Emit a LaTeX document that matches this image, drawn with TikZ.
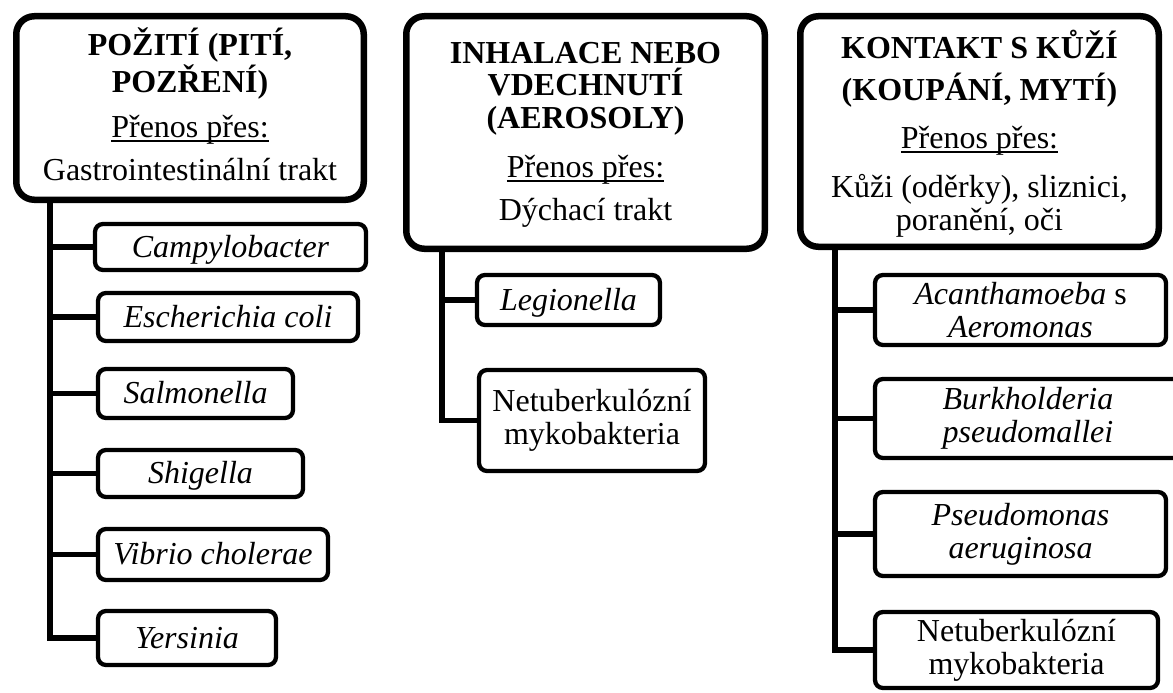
\documentclass[tikz,border=0pt]{standalone}
\usepackage{fontspec}
\setmainfont{Liberation Serif}
\usetikzlibrary{shadows}
\newsavebox\myulbox
\newcommand\myul[1]{\sbox\myulbox{#1}\rlap{\rule[-4.5pt]{\wd\myulbox}{1.5pt}}\usebox\myulbox}
\begin{document}
\begin{tikzpicture}[x=1pt,y=-1pt,
  hdr/.style={draw, line width=6.5pt, rounded corners=18pt, fill=white,
    drop shadow={shadow xshift=2pt, shadow yshift=-3pt, opacity=0.22}},
  htxt/.style={align=center, font=\fontsize{32}{33}\selectfont, inner sep=0pt, anchor=base},
  leaf/.style={draw, line width=4.3pt, rounded corners=8pt, fill=white, inner sep=0pt,
    align=center, font=\fontsize{32}{33}\selectfont\itshape},
  one/.style={text height=25pt, text depth=5pt},
  trunk/.style={line width=5.5pt}]
\useasboundingbox (0,0) rectangle (1173,693);

% headers
\node[hdr, minimum width=347.5pt, minimum height=183.5pt] (h1) at (190,108) {};
\node[htxt] (h1t) at (190,180) {\textbf{POŽITÍ (PITÍ,}\\[1pt]\textbf{POZŘENÍ)}\\[12pt]\myul{Přenos přes:}\\[10pt]Gastrointestinální trakt};

\node[hdr, minimum width=358.5pt, minimum height=232.5pt] (h2) at (585.5,132.5) {};
\node[htxt] (h2t) at (585.5,220) {\textbf{INHALACE NEBO}\\[-1pt]\textbf{VDECHNUTÍ}\\\textbf{(AEROSOLY)}\\[16pt]\myul{Přenos přes:}\\[10pt]Dýchací trakt};

\node[hdr, minimum width=358.5pt, minimum height=230.5pt] (h3) at (979.5,131.5) {};
\node[htxt] (h3t) at (979.5,230) {\textbf{KONTAKT S KŮŽÍ}\\[9pt]\textbf{(KOUPÁNÍ, MYTÍ)}\\[15pt]\myul{Přenos přes:}\\[16pt]Kůži (oděrky), sliznici,\\poranění, oči};

% leaves column 1
\node[leaf, one, minimum width=271pt, minimum height=46pt] (c11) at (230.5,247) {Campylobacter};
\node[leaf, one, minimum width=260pt, minimum height=48pt] (c12) at (228,317) {Escherichia coli};
\node[leaf, one, minimum width=195pt, minimum height=49pt] (c13) at (195.5,393.5) {Salmonella};
\node[leaf, one, minimum width=205pt, minimum height=47pt] (c14) at (200.5,473.5) {Shigella};
\node[leaf, one, minimum width=230pt, minimum height=51pt] (c15) at (213,554.5) {Vibrio cholerae};
\node[leaf, one, minimum width=178pt, minimum height=54pt] (c16) at (187,638) {Yersinia};

% leaves column 2
\node[leaf, one, minimum width=183pt, minimum height=50pt] (c21) at (568.5,300) {Legionella};
\node[leaf, minimum width=226pt, minimum height=101pt] (c22) at (592,420.5) {\upshape Netuberkulózní\\\upshape mykobakteria};

% leaves column 3
\node[leaf, minimum width=291pt, minimum height=70pt] (c31) at (1020.5,310) {Acanthamoeba {\upshape s}\\Aeromonas};
\node[leaf, minimum width=306pt, minimum height=79pt] (c32) at (1028,418.5) {Burkholderia\\pseudomallei};
\node[leaf, minimum width=291pt, minimum height=84pt] (c33) at (1020.5,534) {Pseudomonas\\aeruginosa};
\node[leaf, minimum width=283pt, minimum height=76pt] (c34) at (1016.5,650) {\upshape Netuberkulózní\\\upshape mykobakteria};

% trunks
\coordinate (t1) at (50,200);
\coordinate (t2) at (442,249);
\coordinate (t3) at (835,247);
\draw[trunk] (t1) |- (c16.west);
\foreach \n in {c11,c12,c13,c14,c15} \draw[trunk] (t1 |- \n.west) -- (\n.west);
\draw[trunk] (t2) |- (c22.west);
\draw[trunk] (t2 |- c21.west) -- (c21.west);
\draw[trunk] (t3) |- (c34.west);
\foreach \n in {c31,c32,c33} \draw[trunk] (t3 |- \n.west) -- (\n.west);
\end{tikzpicture}
\end{document}
